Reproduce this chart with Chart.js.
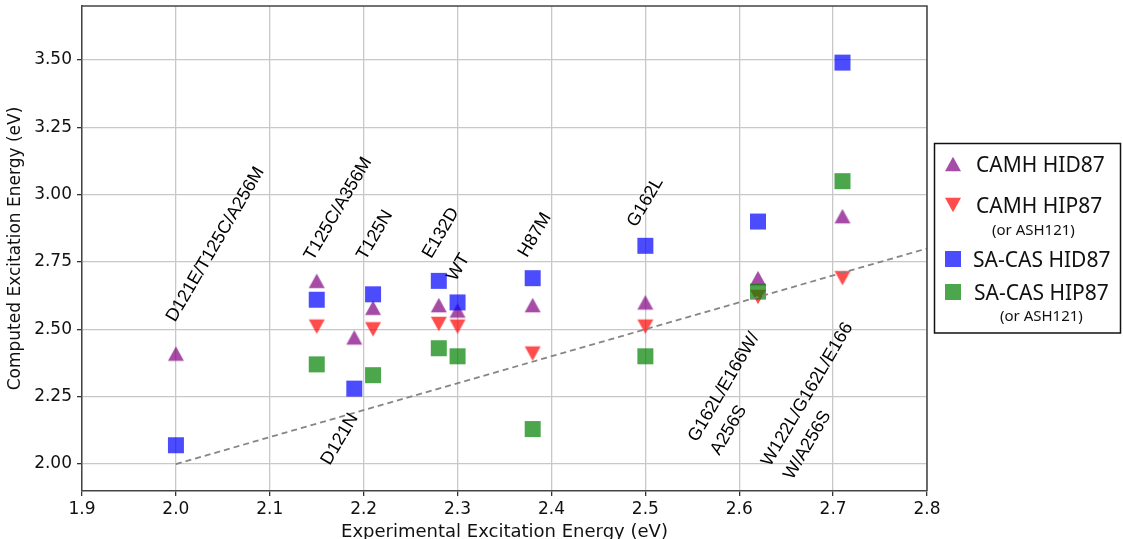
<!DOCTYPE html>
<html>
<head>
<meta charset="utf-8">
<script src="https://cdn.jsdelivr.net/npm/chart.js@4.4.1/dist/chart.umd.min.js"></script>
<style>
  html, body { margin: 0; padding: 0; background: #ffffff; }
  #wrap { position: relative; width: 1123px; height: 539px; }
  canvas { display: block; }
</style>
</head>
<body>
<div id="wrap"><canvas id="c" width="1123" height="539"></canvas></div>
<script>
// ---------------- data ----------------
const mutants = ["D121E/T125C/A256M", "T125C/A356M", "D121N", "T125N", "E132D", "WT", "H87M", "G162L", "G162L/E166W/\nA256S", "W122L/G162L/E166\nW/A256S"];
const expEnergy = [2.00, 2.15, 2.19, 2.21, 2.28, 2.30, 2.38, 2.50, 2.62, 2.71];
const camhHID87 = [2.41, 2.68, 2.47, 2.58, 2.59, 2.57, 2.59, 2.60, 2.69, 2.92];
const camhHIP87 = [null, 2.51, null, 2.50, 2.52, 2.51, 2.41, 2.51, 2.62, 2.69];
const sacasHID87 = [2.07, 2.61, 2.28, 2.63, 2.68, 2.60, 2.69, 2.81, 2.90, 3.49];
const sacasHIP87 = [null, 2.37, null, 2.33, 2.43, 2.40, 2.13, 2.40, 2.64, 3.05];
// label anchor (data coordinates) for each mutant name
const labelX = [1.999, 2.146, 2.164, 2.202, 2.272, 2.298, 2.374, 2.490, 2.555, 2.633];
const labelY = [2.524, 2.752, 1.993, 2.754, 2.760, 2.676, 2.764, 2.876, 2.079, 1.988];
// reference line y = x
const diagX = [2.0, 2.8];
const diagY = [2.0, 2.8];
// ticks
const xTicks = [1.9, 2.0, 2.1, 2.2, 2.3, 2.4, 2.5, 2.6, 2.7, 2.8];
const yTicks = [2.00, 2.25, 2.50, 2.75, 3.00, 3.25, 3.50];
const seriesNames = ["CAMH HID87", "CAMH HIP87", "SA-CAS HID87", "SA-CAS HIP87"];
const seriesSub = [null, "(or ASH121)", null, "(or ASH121)"];

// ---------------- markers ----------------
const COLORS = {
  purple: 'rgba(128,0,128,0.7)',
  red: 'rgba(255,0,0,0.7)',
  blue: 'rgba(0,0,255,0.7)',
  green: 'rgba(0,128,0,0.7)'
};
function makeMarker(shape, fill) {
  const c = document.createElement('canvas');
  c.width = 18; c.height = 18;
  const g = c.getContext('2d');
  g.fillStyle = fill;
  g.beginPath();
  if (shape === 'up') {
    g.moveTo(9, 1.8); g.lineTo(17, 16.2); g.lineTo(1, 16.2);
  } else if (shape === 'down') {
    g.moveTo(9, 16.2); g.lineTo(17, 1.8); g.lineTo(1, 1.8);
  } else {
    g.rect(1, 1, 16, 16);
  }
  g.closePath();
  g.fill();
  return c;
}
const mUp = makeMarker('up', COLORS.purple);
const mDown = makeMarker('down', COLORS.red);
const mBlue = makeMarker('sq', COLORS.blue);
const mGreen = makeMarker('sq', COLORS.green);
const legendMarkers = [mUp, mDown, mBlue, mGreen];

function pts(ys) {
  const out = [];
  ys.forEach((y, i) => { if (y !== null) out.push({ x: expEnergy[i], y: y }); });
  return out;
}

// ---------------- plugins ----------------
const framePlugin = {
  id: 'frame',
  afterDatasetsDraw(chart) {
    const { ctx, chartArea: a } = chart;
    ctx.save();
    ctx.strokeStyle = '#444';
    ctx.lineWidth = 1.5;
    ctx.beginPath();
    ctx.moveTo(a.left, a.top); ctx.lineTo(a.right, a.top); ctx.lineTo(a.right, a.bottom);
    ctx.stroke();
    ctx.restore();
  }
};

const labelPlugin = {
  id: 'mutantLabels',
  afterDatasetsDraw(chart) {
    const { ctx, scales } = chart;
    ctx.save();
    ctx.fillStyle = '#000';
    ctx.font = '18px "Liberation Sans", Arial, sans-serif';
    ctx.textBaseline = 'alphabetic';
    ctx.textAlign = 'left';
    mutants.forEach((name, i) => {
      const px = scales.x.getPixelForValue(labelX[i]);
      const py = scales.y.getPixelForValue(labelY[i]);
      ctx.save();
      ctx.translate(px, py);
      ctx.rotate(-59.5 * Math.PI / 180);
      name.split('\n').forEach((line, k) => ctx.fillText(line, 0, k * 26));
      ctx.restore();
    });
    ctx.restore();
  }
};

const legendPlugin = {
  id: 'customLegend',
  afterDraw(chart) {
    const ctx = chart.ctx;
    ctx.save();
    ctx.strokeStyle = '#111';
    ctx.lineWidth = 1.5;
    ctx.strokeRect(934.5, 143.5, 186, 189.5);
    const markerY = [164, 205, 259, 292];
    const textX = [976, 976, 973, 974];
    const subX = [null, 992, null, 1000];
    const subY = [null, 234.5, null, 320.5];
    ctx.fillStyle = '#111';
    ctx.textBaseline = 'alphabetic';
    ctx.textAlign = 'left';
    seriesNames.forEach((nm, i) => {
      const m = legendMarkers[i];
      ctx.drawImage(m, 953 - 9, markerY[i] - 9);
      ctx.font = '21px "Noto Sans", sans-serif';
      ctx.fillText(nm, textX[i], markerY[i] + 7.5);
      if (seriesSub[i]) {
        ctx.font = '15px "Noto Sans", sans-serif';
        ctx.fillText(seriesSub[i], subX[i], subY[i]);
      }
    });
    ctx.restore();
  }
};

// ---------------- chart ----------------
const tickFont = { family: 'DejaVu Sans', size: 17 };
const xTitleFont = { family: 'DejaVu Sans', size: 18 };
function zeroPad(s) { s.paddingTop = 0; s.paddingBottom = 0; s.paddingLeft = 0; s.paddingRight = 0; }
new Chart(document.getElementById('c'), {
  type: 'scatter',
  data: {
    datasets: [
      { label: 'y = x', type: 'line', data: diagX.map((x, i) => ({ x: x, y: diagY[i] })),
        borderColor: 'rgba(128,128,128,0.95)', borderWidth: 1.8, borderDash: [6, 4],
        pointRadius: 0, fill: false, order: 0 },
      { label: seriesNames[3], data: pts(sacasHIP87), pointStyle: mGreen, order: 1 },
      { label: seriesNames[2], data: pts(sacasHID87), pointStyle: mBlue, order: 2 },
      { label: seriesNames[1], data: pts(camhHIP87), pointStyle: mDown, order: 3 },
      { label: seriesNames[0], data: pts(camhHID87), pointStyle: mUp, order: 4 }
    ]
  },
  options: {
    responsive: false,
    animation: false,
    events: [],
    layout: { padding: { left: 0, right: 196, top: 6, bottom: 0 } },
    plugins: { legend: { display: false }, tooltip: { enabled: false } },
    scales: {
      x: {
        type: 'linear', min: 1.9, max: 2.8,
        afterBuildTicks: s => { s.ticks = xTicks.map(v => ({ value: v })); },
        afterFit: s => { s.height = 48; zeroPad(s); },
        ticks: { callback: v => Number(v).toFixed(1), font: tickFont, color: '#111', padding: 3, maxRotation: 0, autoSkip: false },
        grid: { color: '#c8c8c8', lineWidth: 1.3, tickLength: 5, tickColor: '#333', tickWidth: 1.3 },
        border: { color: '#444', width: 1.5 },
        title: { display: true, text: 'Experimental Excitation Energy (eV)', font: xTitleFont, color: '#111', padding: { top: 0, bottom: -4 } }
      },
      y: {
        type: 'linear', min: 1.9, max: 3.7,
        afterBuildTicks: s => { s.ticks = yTicks.map(v => ({ value: v })); },
        afterFit: s => { s.width = 82; zeroPad(s); },
        ticks: { callback: v => Number(v).toFixed(2), font: tickFont, color: '#111', padding: 5, autoSkip: false },
        grid: { color: '#c8c8c8', lineWidth: 1.3, tickLength: 5, tickColor: '#333', tickWidth: 1.3 },
        border: { color: '#444', width: 1.5 },
        title: { display: true, text: 'Computed Excitation Energy (eV)', font: tickFont, color: '#111', padding: { top: 5, bottom: 0 } }
      }
    }
  },
  plugins: [framePlugin, labelPlugin, legendPlugin]
});
</script>
</body>
</html>
